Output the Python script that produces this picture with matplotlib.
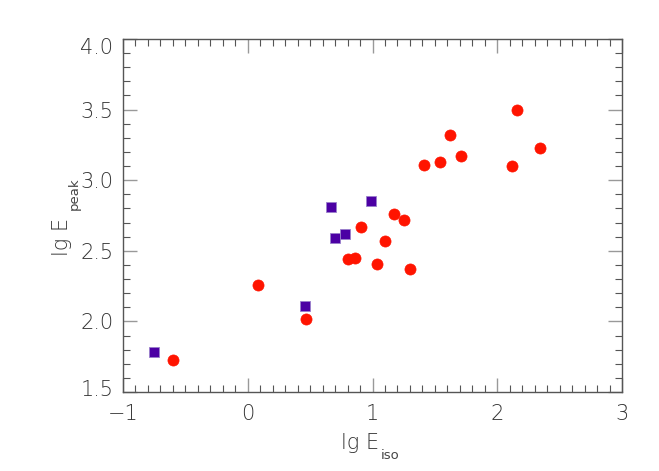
import matplotlib
matplotlib.use("Agg")
import matplotlib.pyplot as plt
from matplotlib.ticker import MultipleLocator, FuncFormatter
from matplotlib.transforms import ScaledTranslation

# Data
sq_x = [-0.75, 0.46, 0.67, 0.70, 0.78, 0.99]
sq_y = [1.78, 2.11, 2.81, 2.59, 2.62, 2.85]

ci_x = [-0.60, 0.08, 0.47, 0.80, 0.86, 0.91, 1.04, 1.10, 1.17, 1.25, 1.30,
        1.41, 1.54, 1.62, 1.71, 2.12, 2.16, 2.34]
ci_y = [1.73, 2.26, 2.02, 2.44, 2.45, 2.67, 2.41, 2.57, 2.76, 2.72, 2.37,
        3.11, 3.13, 3.32, 3.17, 3.10, 3.50, 3.23]

xticks = [-1, 0, 1, 2, 3]
yticks = [1.5, 2.0, 2.5, 3.0, 3.5, 4.0]

plt.rcParams['font.family'] = ['DejaVu Sans']

txtc = '#333333'
W, H = 659, 471
fig = plt.figure(figsize=(W / 100, H / 100), dpi=100)
ax = fig.add_axes([123 / W, 1 - 392 / H, (622 - 123) / W, (392 - 39) / H])

ax.plot(sq_x, sq_y, linestyle='none', marker='s', markersize=7.0,
        markerfacecolor='#4c00a4', markeredgecolor='#9a80cc', markeredgewidth=0.6)
ax.plot(ci_x, ci_y, linestyle='none', marker='o', markersize=8.0,
        markerfacecolor='#ff1400', markeredgecolor='#ff1400', markeredgewidth=0.5)

ax.set_xlim(-1, 3)
ax.set_ylim(1.5, 4.0)
ax.set_xticks(xticks)
ax.set_yticks(yticks)
ax.xaxis.set_minor_locator(MultipleLocator(0.1))
ax.yaxis.set_minor_locator(MultipleLocator(0.1))
ax.xaxis.set_major_formatter(FuncFormatter(lambda v, p: ('\u2212%d' % abs(v)) if v < 0 else '%d' % v))
ax.yaxis.set_major_formatter(FuncFormatter(lambda v, p: '%.1f' % v))

ax.tick_params(which='both', direction='in', top=True, right=True, colors='#555555',
               labelcolor=txtc, labelsize=15)
ax.tick_params(which='major', length=10, width=1.0, color='#999999')
ax.tick_params(axis='x', which='major', pad=9)
ax.tick_params(axis='y', which='major', pad=7)
ax.tick_params(which='minor', length=5, width=0.8, color='#555555')
for lab in ax.get_xticklabels() + ax.get_yticklabels():
    lab.set_fontweight('light')
for s in ax.spines.values():
    s.set_color('#555555')
    s.set_linewidth(1.0)

# IDL-style nudging of the end labels on the y axis
yt = ax.yaxis.get_major_ticks()
yt[-1].label1.set_transform(yt[-1].label1.get_transform() +
                            ScaledTranslation(0, -0.07, fig.dpi_scale_trans))
yt[0].label1.set_transform(yt[0].label1.get_transform() +
                           ScaledTranslation(0, 0.04, fig.dpi_scale_trans))

# Axis titles with IDL-like small, low subscripts
fig.text(379 / W, 1 - 449 / H, 'lg E', fontsize=15, fontweight='light', color=txtc,
         ha='right', va='baseline')
fig.text(381 / W, 1 - 459 / H, 'iso', fontsize=9.5, fontweight='normal', color='#444444',
         ha='left', va='baseline')
fig.text(68 / W, 1 - 218 / H, 'lg E', fontsize=15, fontweight='light', color=txtc,
         rotation=90, rotation_mode='anchor', ha='right', va='baseline')
fig.text(78 / W, 1 - 210 / H, 'peak', fontsize=9.5, fontweight='normal', color='#444444',
         rotation=90, rotation_mode='anchor', ha='left', va='baseline')

fig.savefig('out.png', dpi=100)
